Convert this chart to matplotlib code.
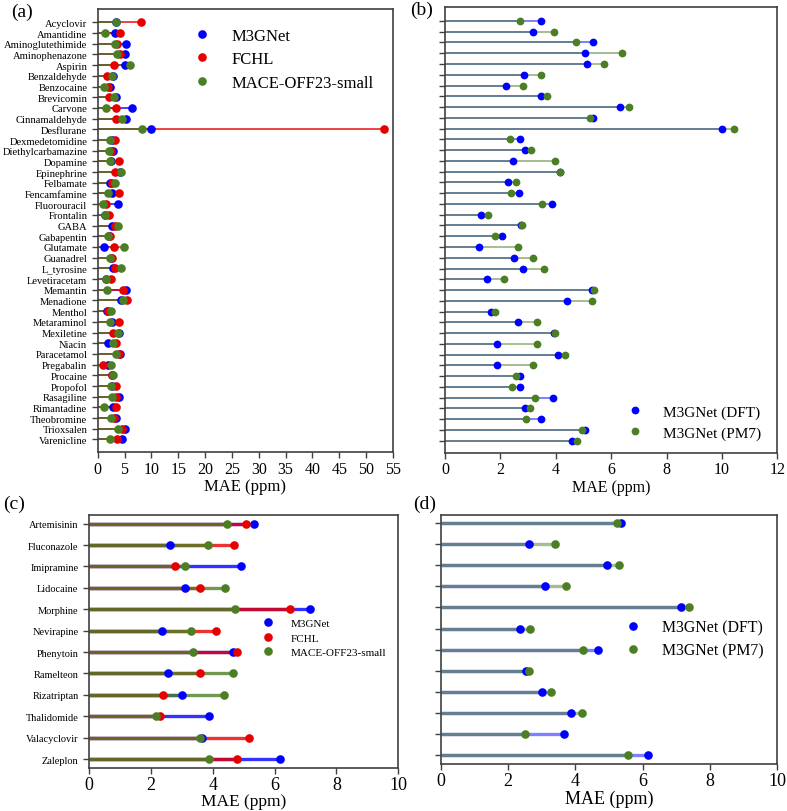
import matplotlib
matplotlib.use('Agg')
import matplotlib.pyplot as plt
import numpy as np

plt.rcParams['font.family'] = ['Liberation Serif', 'DejaVu Serif']

# ---------------- data: panels (a) and (b) ----------------
molecules = ['Acyclovir', 'Amantidine', 'Aminoglutethimide', 'Aminophenazone', 'Aspirin',
             'Benzaldehyde', 'Benzocaine', 'Brevicomin', 'Carvone', 'Cinnamaldehyde',
             'Desflurane', 'Dexmedetomidine', 'Diethylcarbamazine', 'Dopamine', 'Epinephrine',
             'Felbamate', 'Fencamfamine', 'Fluorouracil', 'Frontalin', 'GABA',
             'Gabapentin', 'Glutamate', 'Guanadrel', 'L_tyrosine', 'Levetiracetam',
             'Memantin', 'Menadione', 'Menthol', 'Metaraminol', 'Mexiletine',
             'Niacin', 'Paracetamol', 'Pregabalin', 'Procaine', 'Propofol',
             'Rasagiline', 'Rimantadine', 'Theobromine', 'Trioxsalen', 'Varenicline']

m3gnet_dft = [3.47, 3.18, 5.35, 5.07, 5.13, 2.85, 2.21, 3.48, 6.33, 5.35,
              9.99, 2.71, 2.88, 2.45, 4.15, 2.27, 2.66, 3.87, 1.30, 2.75,
              2.07, 1.24, 2.50, 2.81, 1.52, 5.31, 4.40, 1.65, 2.62, 3.94,
              1.88, 4.09, 1.88, 2.70, 2.70, 3.89, 2.90, 3.47, 5.05, 4.60]

fchl = [8.07, 4.20, 3.60, 4.20, 3.00, 1.75, 2.00, 2.15, 3.40, 3.35,
        53.4, 3.15, 2.50, 3.90, 3.15, 2.60, 3.90, 1.50, 2.10, 3.25,
        2.30, 3.05, 2.60, 3.30, 2.40, 4.70, 5.40, 1.90, 4.00, 2.80,
        3.40, 4.00, 1.05, 2.60, 3.50, 3.50, 3.40, 3.00, 4.60, 3.60]

mace = [3.35, 1.30, 3.30, 3.60, 6.00, 2.70, 1.10, 3.00, 1.60, 4.50,
        8.25, 2.30, 2.10, 2.35, 4.25, 3.20, 2.00, 1.00, 1.45, 3.80,
        1.90, 4.85, 2.20, 4.40, 1.60, 1.70, 4.65, 2.50, 2.30, 3.80,
        2.80, 3.50, 2.55, 2.90, 2.40, 2.70, 1.20, 2.40, 3.85, 2.20]

m3gnet_pm7 = [2.71, 3.92, 4.73, 6.39, 5.73, 3.47, 2.80, 3.69, 6.63, 5.22,
              10.42, 2.35, 3.12, 3.99, 4.17, 2.58, 2.39, 3.52, 1.54, 2.79,
              1.82, 2.64, 3.16, 3.58, 2.13, 5.37, 5.31, 1.80, 3.33, 3.99,
              3.31, 4.35, 3.17, 2.55, 2.43, 3.26, 3.08, 2.91, 4.96, 4.76]

# ---------------- data: panels (c) and (d) ----------------
drugs = ['Artemisinin', 'Fluconazole', 'Imipramine', 'Lidocaine', 'Morphine', 'Nevirapine',
         'Phenytoin', 'Ramelteon', 'Rizatriptan', 'Thalidomide', 'Valacyclovir', 'Zaleplon']

drug_m3gnet = [5.35, 2.62, 4.93, 3.09, 7.14, 2.37, 4.66, 2.54, 3.01, 3.88, 3.65, 6.16]
drug_fchl = [5.09, 4.70, 2.79, 3.59, 6.49, 4.09, 4.80, 3.59, 2.39, 2.30, 5.18, 4.78]
drug_mace = [4.47, 3.84, 3.11, 4.40, 4.73, 3.30, 3.37, 4.67, 4.38, 2.18, 3.59, 3.88]
drug_m3gnet_pm7 = [5.25, 3.40, 5.31, 3.73, 7.37, 2.66, 4.24, 2.61, 3.28, 4.19, 2.50, 5.55]

labels3 = ['M3GNet', 'FCHL', 'MACE-OFF23-small']
labels2 = ['M3GNet (DFT)', 'M3GNet (PM7)']

BLUE = '#0000ff'
RED = '#e60000'
GREEN = '#4c7f24'
SPINE = '#404040'

W, H = 787, 812
fig = plt.figure(figsize=(W / 100, H / 100), dpi=100)


def px_axes(l, t, r, b):
    return fig.add_axes([l / W, 1 - b / H, (r - l) / W, (b - t) / H])


def lollipop(ax, cats, series, colors, names, lw, alpha, ms):
    y = np.arange(len(cats))
    for vals, c in zip(series, colors):
        ax.hlines(y, 0, vals, color=c, alpha=alpha, lw=lw, zorder=1)
    for vals, c, n in zip(series, colors, names):
        ax.plot(vals, y, 'o', color=c, ms=ms, mec='none', label=n, zorder=3, linestyle='none')
    ax.set_yticks(y)
    for s in ax.spines.values():
        s.set_color(SPINE)
        s.set_linewidth(1.2)
    ax.tick_params(direction='out', length=4, width=1, color=SPINE)
    return y


# ---------- (a) ----------
axa = px_axes(97.7, 10, 393, 453.3)
lollipop(axa, molecules, [m3gnet_dft, fchl, mace], [BLUE, RED, GREEN], labels3,
         lw=1.3, alpha=0.8, ms=6.2)
axa.set_yticklabels(molecules, fontsize=7.6)
axa.set_ylim(40.2, -1.25)
axa.set_xlim(0, 55)
axa.set_xticks(np.arange(0, 56, 5))
axa.tick_params(axis='x', labelsize=11.5, pad=2)
axa.set_xlabel('MAE (ppm)', fontsize=12, labelpad=1)
axa.legend(loc='upper left', bbox_to_anchor=(0.325, 0.958), frameon=False, fontsize=12,
           borderpad=0, borderaxespad=0, handlelength=1.0, handletextpad=1.3,
           labelspacing=0.45, numpoints=1)

# ---------- (b) ----------
axb = px_axes(445, 8.3, 777.3, 454)
lollipop(axb, molecules, [m3gnet_dft, m3gnet_pm7], [BLUE, GREEN], labels2,
         lw=1.4, alpha=0.5, ms=5.6)
axb.set_yticklabels([])
axb.set_ylim(40.14, -1.27)
axb.set_xlim(0, 12)
axb.set_xticks(np.arange(0, 13, 2))
axb.tick_params(axis='x', labelsize=11.5, pad=2)
axb.set_xlabel('MAE (ppm)', fontsize=11.5, labelpad=1)
axb.legend(loc='lower left', bbox_to_anchor=(0.549, 0.03), frameon=False, fontsize=11,
           borderpad=0, borderaxespad=0, handlelength=1.0, handletextpad=1.35,
           labelspacing=0.45, numpoints=1)

# ---------- (c) ----------
axc = px_axes(89, 515.7, 398.3, 769)
lollipop(axc, drugs, [drug_m3gnet, drug_fchl, drug_mace], [BLUE, RED, GREEN], labels3,
         lw=2.4, alpha=0.8, ms=6.2)
axc.set_yticklabels(drugs, fontsize=7.5)
axc.set_ylim(11.42, -0.42)
axc.set_xlim(0, 10)
axc.set_xticks(np.arange(0, 11, 2))
axc.tick_params(axis='x', labelsize=13, pad=2)
axc.set_xlabel('MAE (ppm)', fontsize=12.5, labelpad=0)
axc.legend(loc='upper left', bbox_to_anchor=(0.561, 0.592), frameon=False, fontsize=8,
           borderpad=0, borderaxespad=0, handlelength=1.0, handletextpad=1.5,
           labelspacing=0.45, numpoints=1)

# ---------- (d) ----------
axd = px_axes(440.7, 515.7, 777.3, 765)
lollipop(axd, drugs, [drug_m3gnet, drug_m3gnet_pm7], [BLUE, GREEN], labels2,
         lw=2.4, alpha=0.5, ms=6.2)
axd.set_yticklabels([])
axd.set_ylim(11.41, -0.39)
axd.set_xlim(0, 10)
axd.set_xticks(np.arange(0, 11, 2))
axd.tick_params(axis='x', labelsize=13, pad=2)
axd.set_xlabel('MAE (ppm)', fontsize=13, labelpad=0)
axd.legend(loc='upper left', bbox_to_anchor=(0.548, 0.58), frameon=False, fontsize=11.4,
           borderpad=0, borderaxespad=0, handlelength=1.0, handletextpad=1.35,
           labelspacing=0.45, numpoints=1)

# ---------- panel labels ----------
for txt, x, y in [('(a)', 11, 12), ('(b)', 410, 10), ('(c)', 3, 504), ('(d)', 413, 504)]:
    fig.text(x / W, 1 - y / H, txt, fontsize=14, ha='left', va='center')

fig.savefig('out.png', dpi=100)
